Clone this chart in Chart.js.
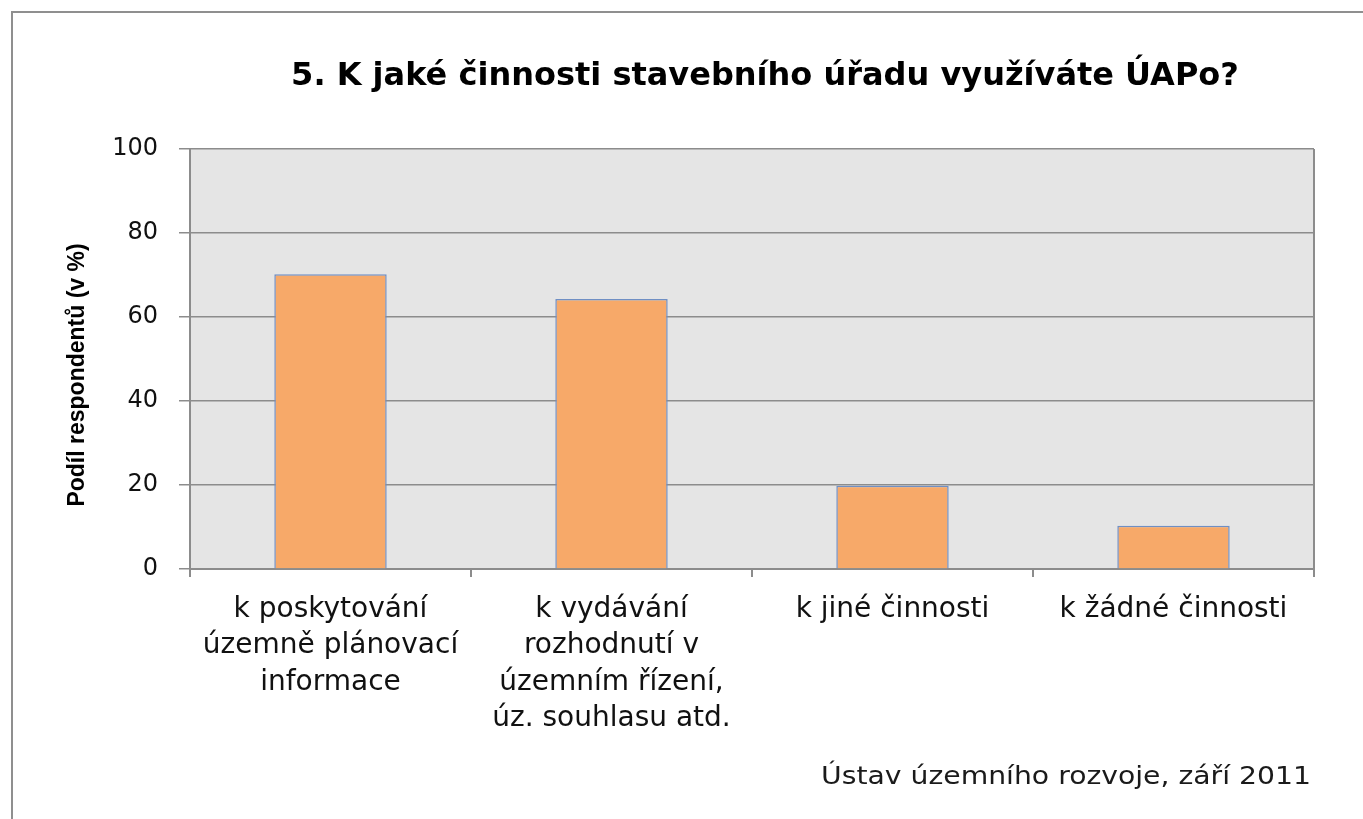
<!DOCTYPE html>
<html lang="cs">
<head>
<meta charset="utf-8">
<title>K jaké činnosti stavebního úřadu využíváte ÚAPo?</title>
<script src="https://cdn.jsdelivr.net/npm/chart.js@4/dist/chart.umd.min.js"></script>
<style>
  html, body { margin: 0; padding: 0; background: #ffffff; overflow: hidden; }
  #ramecek {
    position: absolute; left: 11px; top: 11px; width: 1400px; height: 900px;
    border-left: 2px solid #8f8f8f; border-top: 2px solid #8f8f8f;
  }
  #obal { position: absolute; left: 0; top: 0; width: 1363px; height: 819px; }
</style>
</head>
<body>
<div id="ramecek"></div>
<div id="obal"><canvas id="graf"></canvas></div>
<script>
// data
const nazevGrafu = "5. K jaké činnosti stavebního úřadu využíváte ÚAPo?";
const popisOsyY = "Podíl respondentů (v %)";
const zdroj = "Ústav územního rozvoje, září 2011";
const kategorie = [
  ["k poskytování", "územně plánovací", "informace"],
  ["k vydávání", "rozhodnutí v", "územním řízení,", "úz. souhlasu atd."],
  ["k jiné činnosti"],
  ["k žádné činnosti"]
];
const hodnoty = [70.2, 64.3, 19.8, 10.3];
const osaYMin = 0;
const osaYMax = 100;
const osaYKrok = 20;

// pozadi plochy grafu, pravy okraj, nadpis, popis osy Y a zdroj
const pozadiPlugin = {
  id: "pozadi",
  beforeDraw(chart) {
    const { ctx, chartArea } = chart;
    ctx.save();
    ctx.fillStyle = "#e5e5e5";
    ctx.fillRect(chartArea.left, chartArea.top, chartArea.right - chartArea.left, chartArea.bottom - chartArea.top);
    ctx.restore();
  },
  afterDraw(chart) {
    const { ctx, chartArea } = chart;
    ctx.save();
    ctx.strokeStyle = "#8c8c8c";
    ctx.lineWidth = 2;
    ctx.beginPath();
    ctx.moveTo(chartArea.right, chartArea.top);
    ctx.lineTo(chartArea.right, chartArea.bottom);
    ctx.stroke();

    // nadpis
    ctx.fillStyle = "#000000";
    ctx.font = "bold 32px 'DejaVu Sans', Verdana, sans-serif";
    ctx.textAlign = "center";
    ctx.textBaseline = "middle";
    ctx.fillText(nazevGrafu, (chartArea.left + chartArea.right) / 2 + 13, 77);

    // popis osy Y
    ctx.save();
    ctx.translate(78, 375);
    ctx.rotate(-Math.PI / 2);
    ctx.font = "bold 23px 'Liberation Sans', Arial, sans-serif";
    ctx.fillText(popisOsyY, 0, 0);
    ctx.restore();

    // zdroj (v originale siroke pismo, roztahnout na ~490 px)
    ctx.save();
    ctx.font = "24px 'DejaVu Sans', Verdana, sans-serif";
    ctx.fillStyle = "#1a1a1a";
    ctx.textAlign = "right";
    const sirka = ctx.measureText(zdroj).width;
    ctx.translate(chartArea.right - 3, 778);
    ctx.scale(490 / sirka, 1);
    ctx.fillText(zdroj, 0, 0);
    ctx.restore();
    ctx.restore();
  }
};

const ctx = document.getElementById("graf").getContext("2d");

const graf = new Chart(ctx, {
  type: "bar",
  data: {
    labels: kategorie,
    datasets: [
      {
        data: hodnoty,
        backgroundColor: "#f7a969",
        borderColor: "#6f8fc4",
        borderWidth: 1.5,
        borderSkipped: "bottom",
        barPercentage: 0.4,
        categoryPercentage: 1
      }
    ]
  },
  options: {
    responsive: true,
    maintainAspectRatio: false,
    animation: false,
    layout: {
      padding: { left: 50, top: 149, right: 49, bottom: 0 }
    },
    plugins: {
      legend: { display: false },
      tooltip: { enabled: false },
      title: { display: false }
    },
    scales: {
      x: {
        afterFit: (osa) => { osa.height = 250; },
        grid: {
          offset: true,
          drawOnChartArea: false,
          drawTicks: true,
          tickLength: 8,
          color: "#8c8c8c",
          lineWidth: 2
        },
        border: { color: "#8c8c8c", width: 2 },
        ticks: {
          color: "#111111",
          padding: 15,
          maxRotation: 0,
          autoSkip: false,
          font: { family: "'DejaVu Sans', Verdana, sans-serif", size: 28, lineHeight: 1.29 }
        }
      },
      y: {
        min: osaYMin,
        max: osaYMax,
        afterFit: (osa) => { osa.width = 140; },
        grid: {
          color: "#8c8c8c",
          lineWidth: 1.5,
          tickLength: 11
        },
        border: { color: "#8c8c8c", width: 2 },
        ticks: {
          stepSize: osaYKrok,
          color: "#111111",
          padding: 21,
          font: { family: "'DejaVu Sans', Verdana, sans-serif", size: 24 }
        }
      }
    }
  },
  plugins: [pozadiPlugin]
});
</script>
</body>
</html>
